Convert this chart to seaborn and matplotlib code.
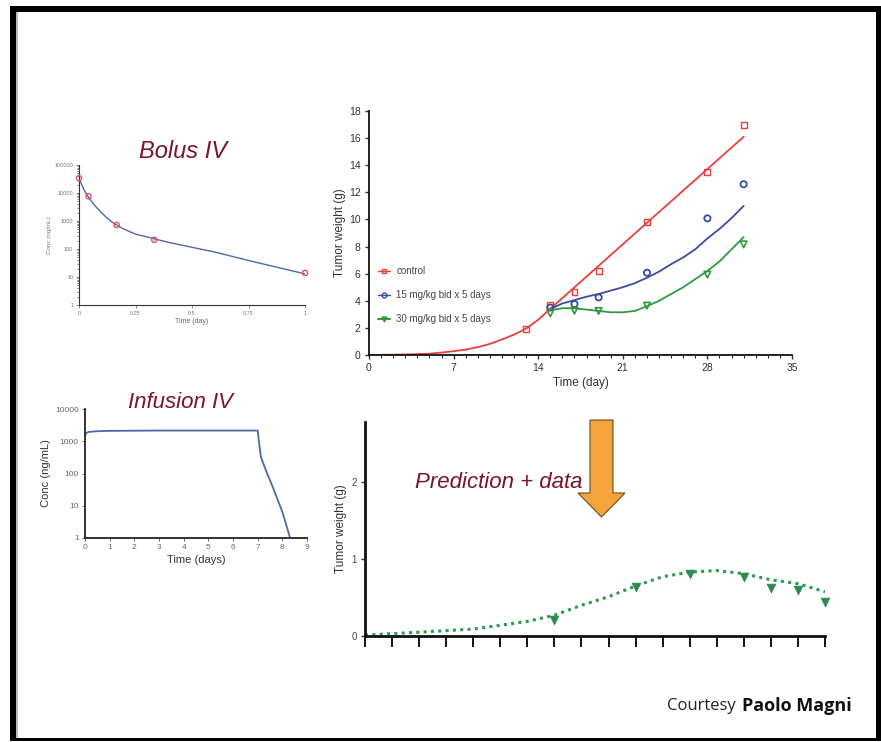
import numpy as np
import pandas as pd
import seaborn as sns
import matplotlib.pyplot as plt
from matplotlib.patches import Rectangle, FancyArrow
from matplotlib.ticker import LogLocator, NullFormatter, FixedLocator

# ---------------- DATA ----------------
# Bolus IV panel
bolus_t = [0.0, 0.042, 0.167, 0.333, 1.0]
bolus_conc = [34000, 7600, 720, 213, 14]
bolus_curve_t = [0.0, 0.01, 0.02, 0.035, 0.05, 0.065, 0.08, 0.1, 0.125, 0.15, 0.175, 0.2, 0.25, 0.3, 0.4, 0.5, 0.6, 0.75, 0.9, 1.0]
bolus_curve_c = [34000, 22000, 14000, 8600, 5800, 4000, 2900, 1970, 1250, 870, 650, 510, 340, 270, 170, 115, 78, 39, 20, 13]
bolus_yticks = [1, 10, 100, 1000, 10000, 100000]
bolus_xticks = [0, 0.25, 0.5, 0.75, 1]

# Infusion IV panel
inf_t = [0.0, 0.05, 0.15, 0.5, 1.0, 3.0, 5.0, 7.0, 7.05, 7.13, 7.33, 7.6, 8.0, 8.3]
inf_c = [1500, 1800, 1950, 2050, 2100, 2150, 2150, 2150, 1000, 330, 127, 40, 6.5, 1.1]
inf_xticks = [0, 1, 2, 3, 4, 5, 6, 7, 8, 9]
inf_yticks = [1, 10, 100, 1000, 10000]

# Tumor growth panel
series_names = ["control", "15 mg/kg bid x 5 days", "30 mg/kg bid x 5 days"]
ctrl_day = [13, 15, 17, 19, 23, 28, 31]
ctrl_w = [1.92, 3.7, 4.67, 6.22, 9.83, 13.5, 17.0]
d15_day = [15, 17, 19, 23, 28, 31]
d15_w = [3.5, 3.76, 4.25, 6.07, 10.08, 12.6]
d30_day = [15, 17, 19, 23, 28, 31]
d30_w = [3.07, 3.27, 3.25, 3.64, 5.93, 8.16]

ctrl_curve_day = [0, 2, 3.5, 5, 6, 7, 8, 9, 10, 10.5, 11, 12, 13, 14, 15, 16, 31]
ctrl_curve_w = [0.0, 0.02, 0.05, 0.1, 0.18, 0.28, 0.4, 0.58, 0.82, 0.98, 1.15, 1.5, 1.95, 2.6, 3.4, 4.2, 16.1]
d15_curve_day = [15, 16, 17, 18, 19, 20, 21, 22, 23, 24, 25, 26, 27, 28, 29, 30, 31]
d15_curve_w = [3.4, 3.8, 4.05, 4.3, 4.5, 4.75, 5.0, 5.3, 5.7, 6.15, 6.7, 7.2, 7.8, 8.6, 9.3, 10.1, 11.0]
d30_curve_day = [15, 16, 17, 18, 19, 20, 21, 22, 23, 24, 25, 26, 27, 28, 29, 30, 31]
d30_curve_w = [3.3, 3.45, 3.45, 3.35, 3.25, 3.15, 3.15, 3.25, 3.6, 4.0, 4.5, 5.0, 5.6, 6.2, 6.9, 7.8, 8.7]

# Prediction panel
pred_x = [7, 10, 12, 14, 15, 16, 17]
pred_w = [0.21, 0.64, 0.81, 0.76, 0.63, 0.60, 0.445]
pred_curve_x = [0, 1, 2, 3, 4, 5, 6, 7, 8, 9, 10, 11, 12, 13, 14, 15, 16, 17]
pred_curve_w = [0.013, 0.03, 0.05, 0.07, 0.09, 0.14, 0.19, 0.27, 0.40, 0.51, 0.65, 0.77, 0.83, 0.85, 0.81, 0.73, 0.68, 0.575]

# ---------------- STYLE ----------------
sns.set_style("ticks")
plt.rcParams['font.family'] = ['Liberation Sans', 'DejaVu Sans']

W, H = 881, 742
fig = plt.figure(figsize=(W / 100, H / 100), dpi=100)
fig.patch.set_facecolor("white")


def ax_px(left, top, right, bottom):
    return fig.add_axes([left / W, (H - bottom) / H, (right - left) / W, (bottom - top) / H])


TITLE_RED = "#7a1428"

# frame of the slide
fig.add_artist(Rectangle((10 / W, (H - 741) / H), 6 / W, 735 / H, transform=fig.transFigure, color="black", lw=0))
fig.add_artist(Rectangle((10 / W, (H - 12) / H), 871 / W, 6 / H, transform=fig.transFigure, color="black", lw=0))
fig.add_artist(Rectangle((876 / W, (H - 741) / H), 5 / W, 735 / H, transform=fig.transFigure, color="black", lw=0))
fig.add_artist(Rectangle((10 / W, (H - 741) / H), 871 / W, 3 / H, transform=fig.transFigure, color="black", lw=0))
fig.add_artist(Rectangle((16 / W, (H - 738) / H), 2 / W, 726 / H, transform=fig.transFigure, color="#bbbbbb", lw=0))

# ---------------- Bolus IV ----------------
ax1 = ax_px(79, 165, 305, 305)
sns.lineplot(x=bolus_curve_t, y=bolus_curve_c, ax=ax1, color="#5068a8", lw=1.0)
sns.scatterplot(x=bolus_t, y=bolus_conc, ax=ax1, marker="o", s=14, facecolor="none",
                edgecolor="#e05060", linewidth=1.0, zorder=3, clip_on=False)
ax1.set_yscale("log")
ax1.set_ylim(1, 100000)
ax1.set_xlim(0, 1)
ax1.set_yticks(bolus_yticks)
ax1.set_yticklabels([str(v) for v in bolus_yticks])
ax1.yaxis.set_minor_locator(LogLocator(base=10, subs=np.arange(2, 10)))
ax1.yaxis.set_minor_formatter(NullFormatter())
ax1.set_xticks(bolus_xticks)
ax1.set_xticklabels(["0", "0.25", "0.5", "0.75", "1"])
ax1.tick_params(labelsize=4, colors="#777777", length=2, width=0.6, pad=2)
ax1.tick_params(which="minor", length=1.2, width=0.4)
ax1.set_xlabel("Time (day)", fontsize=5, color="#666666", labelpad=2)
ax1.set_ylabel("Conc (ng/mL)", fontsize=4.5, color="#777777", labelpad=2)
for s in ["top", "right"]:
    ax1.spines[s].set_visible(False)
for s in ["left", "bottom"]:
    ax1.spines[s].set_linewidth(0.8)
    ax1.spines[s].set_color("#333333")
fig.text(183 / W, (H - 152) / H, "Bolus IV", fontsize=17, style="italic", color=TITLE_RED,
         ha="center", va="center")

# ---------------- Infusion IV ----------------
ax2 = ax_px(85, 409, 307, 538)
sns.lineplot(x=inf_t, y=inf_c, ax=ax2, color="#5068a8", lw=1.3)
ax2.set_yscale("log")
ax2.set_ylim(1, 10000)
ax2.set_xlim(0, 9)
ax2.set_yticks(inf_yticks)
ax2.set_yticklabels([str(v) for v in inf_yticks])
ax2.yaxis.set_minor_locator(LogLocator(base=10, subs=np.arange(2, 10)))
ax2.yaxis.set_minor_formatter(NullFormatter())
ax2.set_xticks(inf_xticks)
ax2.tick_params(labelsize=6, colors="#666666", length=2.5, width=0.7, pad=2)
ax2.tick_params(which="minor", length=0)
ax2.set_xlabel("Time (days)", fontsize=8, color="#333333", labelpad=3)
ax2.set_ylabel("Conc (ng/mL)", fontsize=8, color="#333333", labelpad=3)
for s in ["top", "right"]:
    ax2.spines[s].set_visible(False)
for s in ["left", "bottom"]:
    ax2.spines[s].set_linewidth(1.3)
    ax2.spines[s].set_color("#222222")
fig.text(180 / W, (H - 402) / H, "Infusion IV", fontsize=16, style="italic", color=TITLE_RED,
         ha="center", va="center")

# ---------------- Tumor growth ----------------
ax3 = ax_px(369, 111, 792, 355)
RED, BLUE, GREEN = "#e8413c", "#3a4aa8", "#2e9a40"
sns.lineplot(x=ctrl_curve_day, y=ctrl_curve_w, ax=ax3, color=RED, lw=1.3)
sns.lineplot(x=d15_curve_day, y=d15_curve_w, ax=ax3, color=BLUE, lw=1.3)
sns.lineplot(x=d30_curve_day, y=d30_curve_w, ax=ax3, color=GREEN, lw=1.3)
sns.scatterplot(x=ctrl_day, y=ctrl_w, ax=ax3, marker="s", s=18, facecolor="none", edgecolor=RED, linewidth=1.0, zorder=3)
sns.scatterplot(x=d15_day, y=d15_w, ax=ax3, marker="o", s=20, facecolor="none", edgecolor=BLUE, linewidth=1.3, zorder=3)
sns.scatterplot(x=d30_day, y=d30_w, ax=ax3, marker="v", s=22, facecolor="none", edgecolor=GREEN, linewidth=1.2, zorder=3)
ax3.set_xlim(0, 35)
ax3.set_ylim(0, 18)
ax3.set_xticks([0, 7, 14, 21, 28, 35])
ax3.xaxis.set_minor_locator(FixedLocator(list(range(0, 36))))
ax3.set_yticks(list(range(0, 19, 2)))
ax3.tick_params(labelsize=7.5, colors="#333333", length=3, width=1.0, pad=3)
ax3.tick_params(which="minor", length=2, width=0.8)
ax3.set_xlabel("Time (day)", fontsize=8.5, color="#333333", labelpad=3)
ax3.set_ylabel("Tumor weight (g)", fontsize=8.5, color="#333333", labelpad=2)
for s in ["top", "right"]:
    ax3.spines[s].set_visible(False)
for s in ["left", "bottom"]:
    ax3.spines[s].set_linewidth(1.3)
    ax3.spines[s].set_color("#111111")
handles = [
    plt.Line2D([], [], color=RED, marker="s", mfc="none", ms=3.5, lw=1.0),
    plt.Line2D([], [], color=BLUE, marker="o", mfc="none", ms=3.5, lw=1.0),
    plt.Line2D([], [], color=GREEN, marker="v", mfc=GREEN, ms=3.5, lw=1.5),
]
leg = ax3.legend(handles, series_names, loc="upper left", bbox_to_anchor=(0.0, 0.40),
                 frameon=False, fontsize=7, handlelength=1.3, handletextpad=0.6, labelspacing=1.45,
                 labelcolor="#444444")

# ---------------- Prediction ----------------
ax4 = ax_px(365, 422, 825, 636)
sns.lineplot(x=pred_curve_x, y=pred_curve_w, ax=ax4, color="#2e9a50", lw=2.2, linestyle=(0, (1, 1.4)))
sns.scatterplot(x=pred_x, y=pred_w, ax=ax4, marker="v", s=40, color="#2e8a50", edgecolor="#2e8a50",
                zorder=3, clip_on=False)
ax4.set_xlim(0, 17)
ax4.set_ylim(0, 2.78)
ax4.set_xticks(list(range(0, 18)))
ax4.set_xticklabels([])
ax4.set_yticks([0, 1, 2])
ax4.tick_params(axis="x", length=8, width=1.4, direction="out", colors="#111111")
ax4.tick_params(axis="y", length=3, width=1.0, labelsize=7, colors="#333333", pad=3)
ax4.tick_params(axis="y", labelcolor="#444444")
ax4.set_ylabel("Tumor weight (g)", fontsize=8.5, color="#333333", labelpad=3)
for s in ["top", "right"]:
    ax4.spines[s].set_visible(False)
for s in ["left", "bottom"]:
    ax4.spines[s].set_linewidth(2.0)
    ax4.spines[s].set_color("#111111")
ax4.spines["bottom"].set_bounds(0, 17)

fig.text(499 / W, (H - 483) / H, "Prediction + data", fontsize=16, style="italic", color=TITLE_RED,
         ha="center", va="center")

# orange arrow
arrow = FancyArrow(601.5 / W, (H - 420) / H, 0, -97 / H, width=23 / W, head_width=47 / W,
                   head_length=24 / H, length_includes_head=True, transform=fig.transFigure,
                   facecolor="#f4a43a", edgecolor="#6a4a20", lw=0.8)
fig.add_artist(arrow)

# courtesy
fig.text(667 / W, (H - 706) / H, "Courtesy", fontsize=12, color="#222222", ha="left", va="center",
         family=["Open Sans", "DejaVu Sans"])
fig.text(742 / W, (H - 706) / H, "Paolo Magni", fontsize=13, color="#111111", ha="left", va="center",
         weight="bold", family=["Open Sans", "DejaVu Sans"])

fig.savefig("out.png", dpi=100, facecolor="white")
